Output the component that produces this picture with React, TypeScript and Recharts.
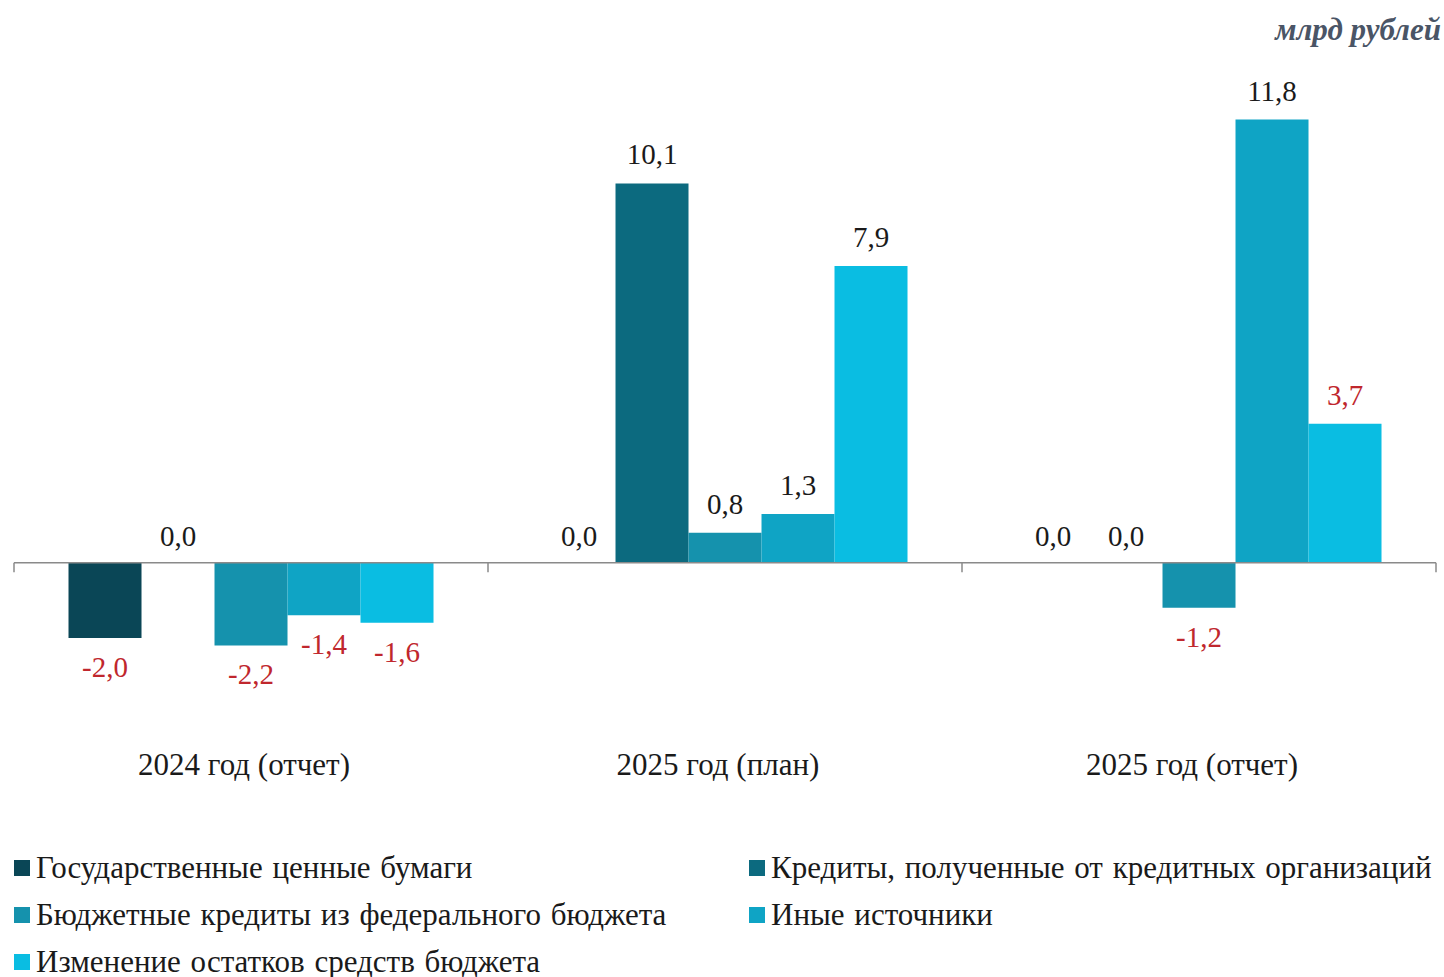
import React from "react";
import { Bar, BarChart, Cell, LabelList, ReferenceLine, XAxis, YAxis } from "recharts";

const CATEGORIES = ["2024 год (отчет)", "2025 год (план)", "2025 год (отчет)"];

const SERIES_NAMES = [
  "Государственные ценные бумаги",
  "Кредиты, полученные от кредитных организаций",
  "Бюджетные кредиты из федерального бюджета",
  "Иные источники",
  "Изменение остатков средств бюджета",
];

const GOV_SECURITIES = [-2.0, 0.0, 0.0];
const BANK_CREDITS = [0.0, 10.1, 0.0];
const BUDGET_CREDITS = [-2.2, 0.8, -1.2];
const OTHER_SOURCES = [-1.4, 1.3, 11.8];
const BALANCE_CHANGE = [-1.6, 7.9, 3.7];

// labels printed in red in the source besides the negative ones
const RED_EXTRA = [{ key: "s5", category: "2025 год (отчет)" }];

const COLORS = ["#0a4656", "#0c6a7f", "#1592ad", "#0fa4c5", "#0abde2"];
const SERIES_VALUES = [GOV_SECURITIES, BANK_CREDITS, BUDGET_CREDITS, OTHER_SOURCES, BALANCE_CHANGE];
const KEYS = ["s1", "s2", "s3", "s4", "s5"];

const data = CATEGORIES.map((category, i) => {
  const row: Record<string, string | number> = { category };
  KEYS.forEach((k, s) => {
    row[k] = SERIES_VALUES[s][i];
  });
  return row;
});

// small tick marks on the zero line at the category boundaries
const EDGES = [
  ...CATEGORIES.map((c) => ({ cat: c, position: "start" as const })),
  { cat: CATEGORIES[CATEGORIES.length - 1], position: "end" as const },
];

const FONT = "'Liberation Serif', 'DejaVu Serif', serif";
const RED = "#c0272d";
const AXIS = "#8a8a8a";

const fmt = (v: number) => v.toFixed(1).replace(".", ",");

function makeLabel(key: string) {
  return (props: any) => {
    const { x, y, width, height, value, index } = props;
    const v = Number(value);
    const top = Math.min(y, y + height);
    const bottom = Math.max(y, y + height);
    const red =
      v < 0 || RED_EXTRA.some((r) => r.key === key && r.category === CATEGORIES[index]);
    const ty = v < 0 ? bottom + 29 : v === 0 ? bottom - 27 : top - 29;
    return (
      <text
        x={x + width / 2}
        y={ty}
        textAnchor="middle"
        dominantBaseline="central"
        fontFamily={FONT}
        fontSize={29}
        fill={red ? RED : "#1a1a1a"}
      >
        {fmt(v)}
      </text>
    );
  };
}

export default function App() {
  return (
    <div
      style={{
        position: "absolute",
        left: 0,
        top: 0,
        width: 1444,
        height: 977,
        background: "#fff",
        overflow: "hidden",
      }}
    >
      <div
        style={{
          position: "absolute",
          right: 3,
          top: 12,
          fontFamily: FONT,
          fontStyle: "italic",
          fontWeight: "bold",
          fontSize: 31,
          color: "#4a5566",
        }}
      >
        млрд рублей
      </div>
      <BarChart
        width={1444}
        height={783}
        data={data}
        margin={{ top: 37, right: 8, left: 14, bottom: 0 }}
        barCategoryGap="11.5%"
        barGap={0}
      >
        <YAxis hide domain={[-4, 14]} allowDataOverflow />
        <XAxis
          dataKey="category"
          height={70}
          axisLine={false}
          tickLine={false}
          tickMargin={34}
          tick={{ fontFamily: FONT, fontSize: 31, fill: "#1a1a1a", dx: -7 }}
        />
        {KEYS.map((k, s) => (
          <Bar
            key={k}
            dataKey={k}
            name={SERIES_NAMES[s]}
            fill={COLORS[s]}
            minPointSize={(v: number) => (v === 0 ? 1 : 0)}
            isAnimationActive={false}
          >
            {SERIES_VALUES[s].map((v, i) => (
              <Cell key={i} fill={COLORS[s]} fillOpacity={v === 0 ? 0 : 1} />
            ))}
            <LabelList dataKey={k} content={makeLabel(k)} />
          </Bar>
        ))}
        <ReferenceLine y={0} stroke={AXIS} strokeWidth={1.5} />
        {EDGES.map((e, i) => (
          <ReferenceLine
            key={i}
            position={e.position}
            ifOverflow="visible"
            segment={[
              { x: e.cat, y: 0 },
              { x: e.cat, y: -0.25 },
            ]}
            stroke={AXIS}
            strokeWidth={1.5}
          />
        ))}
      </BarChart>
      <div
        style={{
          position: "absolute",
          left: 14,
          top: 846,
          display: "grid",
          gridTemplateColumns: "735px auto",
          rowGap: 3,
          fontFamily: FONT,
          fontSize: 31,
          color: "#1a1a1a",
        }}
      >
        {SERIES_NAMES.map((name, s) => (
          <div key={name} style={{ display: "flex", alignItems: "center", height: 44, whiteSpace: "nowrap" }}>
            <span
              style={{
                display: "inline-block",
                width: 16,
                height: 16,
                background: COLORS[s],
                marginRight: 6,
              }}
            />
            <span style={{ wordSpacing: 2 }}>{name}</span>
          </div>
        ))}
      </div>
    </div>
  );
}
